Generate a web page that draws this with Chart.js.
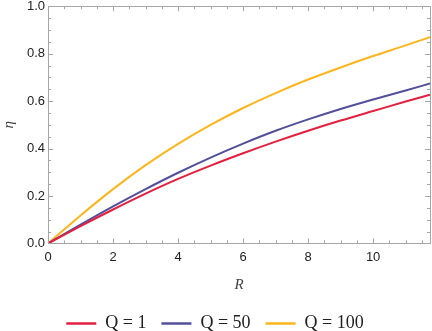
<!DOCTYPE html>
<html>
<head>
<meta charset="utf-8">
<script src="https://cdn.jsdelivr.net/npm/chart.js@4.4.1/dist/chart.umd.min.js"></script>
<style>
  html, body { margin: 0; padding: 0; background: #fff; overflow: hidden; }
  #wrap { width: 432px; height: 331px; }
</style>
</head>
<body>
<div id="wrap"><canvas id="myChart" width="432" height="331"></canvas></div>
<script>
// R values the curves were read at
var rValues = [0, 1, 2, 3, 4, 5, 6, 7, 8, 9, 10, 11, 11.75];
var etaQ1   = [0, 0.073, 0.143, 0.210, 0.272, 0.328, 0.380, 0.429, 0.475, 0.518, 0.558, 0.598, 0.627];
var etaQ50  = [0, 0.079, 0.156, 0.229, 0.298, 0.362, 0.421, 0.475, 0.523, 0.567, 0.607, 0.645, 0.674];
var etaQ100 = [0, 0.118, 0.229, 0.330, 0.420, 0.500, 0.571, 0.634, 0.691, 0.742, 0.790, 0.835, 0.870];
var seriesLabels = ["Q = 1", "Q = 50", "Q = 100"];
var seriesColors = ["#e3203f", "#52509a", "#fdb51c"];
var xTicks = [0, 2, 4, 6, 8, 10];
var yTicks = [0, 0.2, 0.4, 0.6, 0.8, 1.0];

function points(ys) {
    return rValues.map(function (r, i) { return { x: r, y: ys[i] }; });
}

// frame with inward ticks on all four sides
var frameTicks = {
    id: "frameTicks",
    afterDatasetsDraw: function (chart) {
        var c = chart.ctx, a = chart.chartArea;
        var xs = chart.scales.x, ys = chart.scales.y;
        c.save();
        c.strokeStyle = "#a6a6a6";
        c.lineWidth = 1;
        c.beginPath();
        var v, p, len;
        for (v = 0; v <= 11.75 + 1e-9; v += 0.5) {
            p = Math.round(xs.getPixelForValue(v)) + 0.5;
            len = (Math.abs(v % 2) < 1e-9) ? 5 : 3;
            c.moveTo(p, a.bottom); c.lineTo(p, a.bottom - len);
            c.moveTo(p, a.top); c.lineTo(p, a.top + len);
        }
        for (v = 0; v <= 1 + 1e-9; v += 0.05) {
            p = Math.round(ys.getPixelForValue(v)) + 0.5;
            len = (Math.abs(Math.round(v * 100) % 20) < 1e-9) ? 5 : 3;
            c.moveTo(a.left, p); c.lineTo(a.left + len, p);
            c.moveTo(a.right, p); c.lineTo(a.right - len, p);
        }
        c.stroke();
        c.strokeRect(Math.round(a.left) + 0.5, Math.round(a.top) + 0.5,
                     Math.round(a.right - a.left), Math.round(a.bottom - a.top));
        c.restore();
    }
};

var ctx = document.getElementById("myChart");

var myChart = new Chart(ctx, {
    type: "line",
    data: {
        datasets: [
            { label: seriesLabels[0], data: points(etaQ1),   borderColor: seriesColors[0], backgroundColor: seriesColors[0] },
            { label: seriesLabels[1], data: points(etaQ50),  borderColor: seriesColors[1], backgroundColor: seriesColors[1] },
            { label: seriesLabels[2], data: points(etaQ100), borderColor: seriesColors[2], backgroundColor: seriesColors[2] }
        ]
    },
    options: {
        responsive: false,
        animation: false,
        devicePixelRatio: 1,
        layout: { padding: { left: 0, right: 2, top: 0, bottom: -11.5 } },
        elements: {
            point: { radius: 0 },
            line: { borderWidth: 2, cubicInterpolationMode: "monotone", fill: false }
        },
        plugins: {
            tooltip: { enabled: false },
            legend: {
                position: "bottom",
                labels: {
                    usePointStyle: true,
                    pointStyleWidth: 30,
                    padding: 15,
                    color: "#222",
                    font: { family: "'Liberation Serif', serif", size: 18 },
                    generateLabels: function (chart) {
                        return chart.data.datasets.map(function (ds, i) {
                            return {
                                text: ds.label,
                                fillStyle: ds.borderColor,
                                strokeStyle: ds.borderColor,
                                lineWidth: 2.5,
                                pointStyle: "line",
                                fontColor: "#222",
                                hidden: false,
                                datasetIndex: i
                            };
                        });
                    }
                }
            }
        },
        scales: {
            x: {
                type: "linear",
                min: 0,
                max: 11.75,
                grid: { display: false, drawTicks: false },
                border: { display: false },
                ticks: {
                    stepSize: 2,
                    includeBounds: false,
                    padding: 6,
                    color: "#222",
                    font: { family: "'Liberation Sans', sans-serif", size: 13 },
                    callback: function (v) { return xTicks.indexOf(v) >= 0 ? String(v) : ""; }
                },
                title: {
                    display: true,
                    text: "R",
                    color: "#444",
                    padding: { top: 5, bottom: 5.5 },
                    font: { family: "'Liberation Serif', serif", size: 15, style: "italic" }
                }
            },
            y: {
                min: 0,
                max: 1,
                grid: { display: false, drawTicks: false },
                border: { display: false },
                ticks: {
                    stepSize: 0.2,
                    padding: 3,
                    color: "#222",
                    font: { family: "'Liberation Sans', sans-serif", size: 13, lineHeight: 0.5 },
                    callback: function (v) {
                        for (var i = 0; i < yTicks.length; i++) {
                            if (Math.abs(yTicks[i] - v) < 1e-9) return yTicks[i].toFixed(1);
                        }
                        return "";
                    }
                },
                title: {
                    display: true,
                    text: "η",
                    color: "#444",
                    padding: { top: 0, bottom: 6 },
                    font: { family: "'Liberation Serif', serif", size: 15, style: "italic" }
                }
            }
        }
    },
    plugins: [frameTicks]
});
</script>
</body>
</html>
